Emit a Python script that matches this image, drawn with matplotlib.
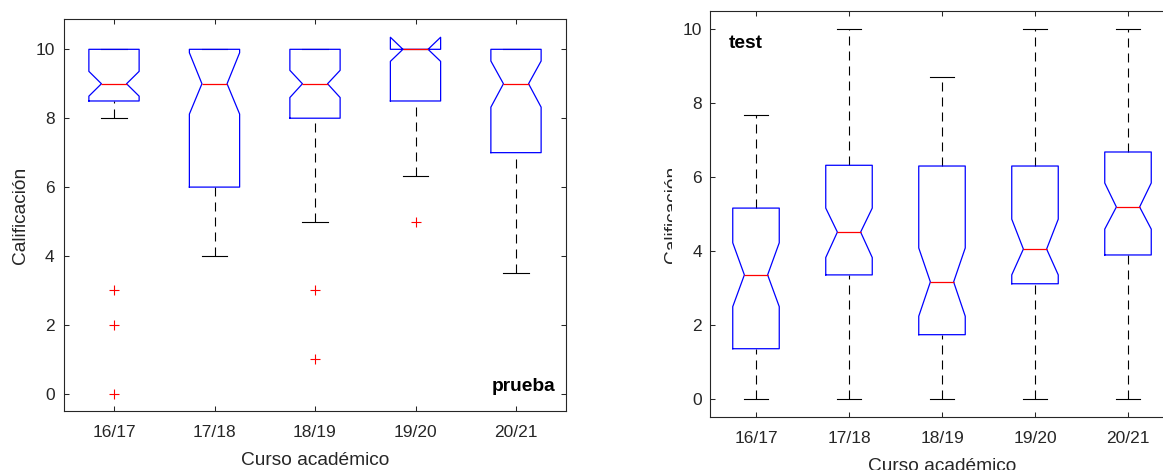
import matplotlib
matplotlib.use("Agg")
import matplotlib.pyplot as plt
from matplotlib.transforms import Bbox

plt.rcParams['font.family'] = ['Liberation Sans', 'DejaVu Sans']
plt.rcParams['lines.scale_dashes'] = False

# ---------------- data ----------------
categories = ['16/17', '17/18', '18/19', '19/20', '20/21']
yticks = [0, 2, 4, 6, 8, 10]

# left panel ("prueba")
p_med = [9, 9, 9, 10, 9]
p_q1 = [8.5, 6, 8, 8.5, 7]
p_q3 = [10, 10, 10, 10, 10]
p_whislo = [8, 4, 5, 6.33, 3.5]
p_whishi = [10, 10, 10, 10, 10]
p_cilo = [8.64, 8.12, 8.6, 9.65, 8.32]
p_cihi = [9.36, 9.9, 9.39, 10.35, 9.66]
p_fliers = [[3, 2, 0], [], [3, 1], [5], []]

# right panel ("test")
t_med = [3.35, 4.51, 3.16, 4.05, 5.19]
t_q1 = [1.35, 3.35, 1.73, 3.11, 3.89]
t_q3 = [5.16, 6.32, 6.30, 6.30, 6.68]
t_whislo = [0, 0, 0, 0, 0]
t_whishi = [7.67, 10, 8.70, 10, 10]
t_cilo = [2.49, 3.82, 2.23, 3.35, 4.59]
t_cihi = [4.22, 5.16, 4.08, 4.86, 5.84]
t_fliers = [[], [], [], [], []]

GRAY = '#262626'
W, H = 1163, 470
fig = plt.figure(figsize=(W / 100, H / 100), dpi=100)


def make_stats(med, q1, q3, lo, hi, cilo, cihi, fl):
    out = []
    for i in range(len(med)):
        out.append(dict(med=med[i], q1=q1[i], q3=q3[i], whislo=lo[i], whishi=hi[i],
                        cilo=cilo[i], cihi=cihi[i], fliers=fl[i], label=categories[i]))
    return out


def draw_panel(ax, stats, ylim, ypad):
    bp = ax.bxp(stats, positions=range(1, len(stats) + 1), widths=0.5, shownotches=True,
                boxprops=dict(color='blue', lw=0.9, zorder=3),
                medianprops=dict(color='red', lw=0.9, zorder=4),
                whiskerprops=dict(color='black', lw=0.8, linestyle=(0, (6.5, 4.3)), zorder=2),
                capprops=dict(color='black', lw=0.8, zorder=2),
                flierprops=dict(marker='+', markeredgecolor='red', markersize=7,
                                markeredgewidth=0.8, linestyle='none'))
    # lower whiskers drawn upward from the cap, as in the original
    for w in bp['whiskers'][::2]:
        w.set_data(w.get_xdata()[::-1], w.get_ydata()[::-1])
    ax.set_xlim(0.5, 5.5)
    ax.set_ylim(*ylim)
    ax.set_yticks(yticks)
    ax.set_xticks(range(1, 6))
    ax.set_xticklabels(categories)
    ax.tick_params(direction='in', top=True, right=True, length=3.5, width=0.75,
                   colors=GRAY, labelsize=12.5)
    ax.tick_params(axis='x', pad=10)
    ax.tick_params(axis='y', pad=ypad)
    for s in ax.spines.values():
        s.set_color(GRAY)
        s.set_linewidth(0.8)
    return bp


# left axes
axL = fig.add_axes([63.75 / W, (H - 411) / H, 502.5 / W, 392 / H])
draw_panel(axL, make_stats(p_med, p_q1, p_q3, p_whislo, p_whishi, p_cilo, p_cihi, p_fliers),
           (-0.5, 10.88), 6.5)
axL.set_xlabel('Curso académico', fontsize=13.8, color=GRAY)
axL.set_ylabel('Calificación', fontsize=13.8, color=GRAY)
axL.xaxis.set_label_coords(0.5, (411 - 452) / 392)
axL.yaxis.label.set_va('baseline')
axL.yaxis.set_label_coords((25 - 63.75) / 502.5, 0.5)
axL.text((555 - 63.75) / 502.5, (411 - 391) / 392, 'prueba', transform=axL.transAxes,
         ha='right', va='baseline', fontsize=13.8, fontweight='bold', color='black')

# right axes (cut by the image's right edge)
axR = fig.add_axes([709.5 / W, (H - 417) / H, 465 / W, 406 / H])
draw_panel(axR, make_stats(t_med, t_q1, t_q3, t_whislo, t_whishi, t_cilo, t_cihi, t_fliers),
           (-0.5, 10.5), 5.4)
axR.set_xlabel('Curso académico', fontsize=13.8, color=GRAY)
axR.set_ylabel('Calificación', fontsize=13.8, color=GRAY)
axR.xaxis.set_label_coords(0.5, (417 - 458) / 406)
axR.yaxis.label.set_va('baseline')
axR.yaxis.set_label_coords((676.6 - 709.5) / 465, 0.5)
axR.yaxis.label.set_clip_box(Bbox.from_extents(0, 0, 672, H))
axR.yaxis.label.set_clip_on(True)
axR.text((729 - 709.5) / 465, (417 - 48) / 406, 'test', transform=axR.transAxes,
         ha='left', va='baseline', fontsize=13.8, fontweight='bold', color='black')

fig.savefig('out.png', dpi=100)
